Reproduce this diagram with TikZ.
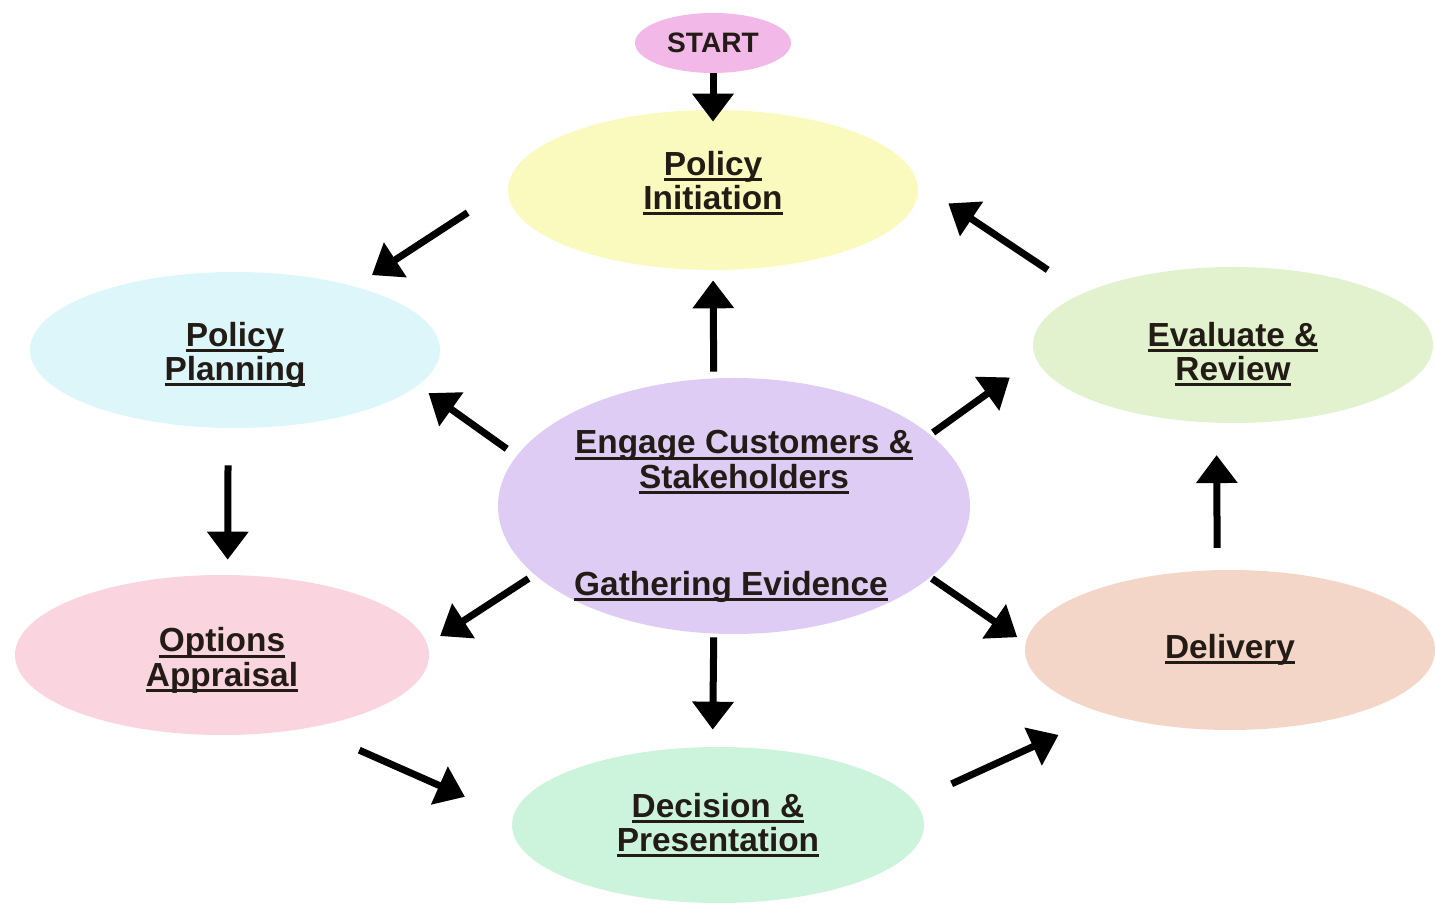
\documentclass[tikz,border=0pt]{standalone}
\usepackage{fontspec}
\setmainfont{Liberation Sans}
\usepackage{tikz}
\usetikzlibrary{arrows.meta,shapes.geometric}
\definecolor{startpink}{RGB}{242,184,232}
\definecolor{inityellow}{RGB}{250,250,190}
\definecolor{plancyan}{RGB}{220,246,250}
\definecolor{evalgreen}{RGB}{226,242,206}
\definecolor{engagelilac}{RGB}{222,204,244}
\definecolor{optspink}{RGB}{250,212,222}
\definecolor{delivpeach}{RGB}{244,214,200}
\definecolor{decmint}{RGB}{204,244,220}
\definecolor{inkdark}{RGB}{35,28,22}
\newcommand{\ulbox}[1]{\leavevmode\setbox0=\hbox{#1}\rlap{\rule[-3.2pt]{\wd0}{1.7pt}}\box0}
\newcommand{\topgap}[1]{\rule{0pt}{#1}}
\newcommand{\botgap}[1]{\rule[-#1]{0pt}{#1}}
\tikzset{phase/.style={ellipse,inner sep=0pt,minimum width=8.2cm,minimum height=3.2cm,
        align=center,text=inkdark,font=\bfseries\fontsize{19}{19.5}\selectfont}}
\tikzset{arr/.style={-{Triangle[width=0.8cm,length=0.56cm]},line width=0.14cm,black}}

\begin{document}
\begin{tikzpicture}
                \useasboundingbox (0,0) rectangle (28.7,18.16);
                \fill[white] (0,0) rectangle (28.7,18.16);
                \node[phase,fill=startpink,minimum width=3.12cm,minimum height=1.2cm,
                      font=\bfseries\fontsize{16}{17}\selectfont] (start) at (14.26,17.30) {START};
                \node[phase,fill=inityellow] (init) at (14.26,14.36) {\ulbox{Policy}\\\ulbox{Initiation}\botgap{0.39cm}};
                \node[phase,fill=plancyan,minimum height=3.12cm] (plan) at (4.70,11.16) {\topgap{0.69cm}\ulbox{Policy}\\\ulbox{Planning}};
                \node[phase,fill=evalgreen,minimum width=8.0cm,minimum height=3.12cm] (eval) at (24.66,11.26) {\topgap{0.85cm}\ulbox{Evaluate \&}\\\ulbox{Review}};
                \node[phase,fill=engagelilac,minimum width=9.44cm,minimum height=5.12cm,inner xsep=-0.6cm,inner ysep=-0.5cm] (engage) at (14.68,8.04)
                    {\topgap{0.89cm}\hspace*{0.4cm}\ulbox{Engage Customers \&}\\\hspace*{0.4cm}\ulbox{Stakeholders}\\[1.46cm]\ulbox{Gathering Evidence}\hspace*{0.12cm}};
                \node[phase,fill=optspink,minimum width=8.28cm] (opts) at (4.44,5.06) {\topgap{0.7cm}\ulbox{Options}\\\ulbox{Appraisal}};
                \node[phase,fill=delivpeach] (deliv) at (24.60,5.16) {\ulbox{Delivery}};
                \node[phase,fill=decmint,minimum width=8.24cm,minimum height=3.12cm] (dec) at (14.36,1.66) {\ulbox{Decision \&}\\\ulbox{Presentation}};
                \path[arr]
                    (start.south) edge[shorten >=-0.24cm] (init.north)
                    (init.179)  edge[shorten <=0.96cm,shorten >=0.41cm] (plan.28)
                    (plan.265)  edge[shorten <=0.74cm,shorten >=0.3cm]  (opts.86)
                    (opts.320)  edge[shorten <=1.1cm,shorten >=1.04cm]  (dec.178)
                    (dec.7)     edge[shorten <=0.82cm,shorten >=1.02cm] (deliv.207)
                    (deliv.99)  edge[shorten <=0.44cm,shorten >=0.64cm] (eval.258)
                    (eval.161)  edge[shorten <=0.84cm,shorten >=0.74cm] (init.2)
                    (engage.99)  edge[shorten <=0.13cm,shorten >=0.2cm]  (init.270)
                    (engage.167) edge[shorten <=0.24cm,shorten >=0.26cm] (plan.349)
                    (engage.20)  edge[shorten <=0.07cm,shorten >=0.64cm] (eval.184)
                    (engage.199) edge[shorten <=0.14cm,shorten >=0.3cm]  (opts.3)
                    (engage.340) edge[shorten <=0.04cm,shorten >=0.2cm]  (deliv.178)
                    (engage.261) edge[shorten <=0.07cm,shorten >=0.34cm] (dec.94)
                ;
\end{tikzpicture}
\end{document}
